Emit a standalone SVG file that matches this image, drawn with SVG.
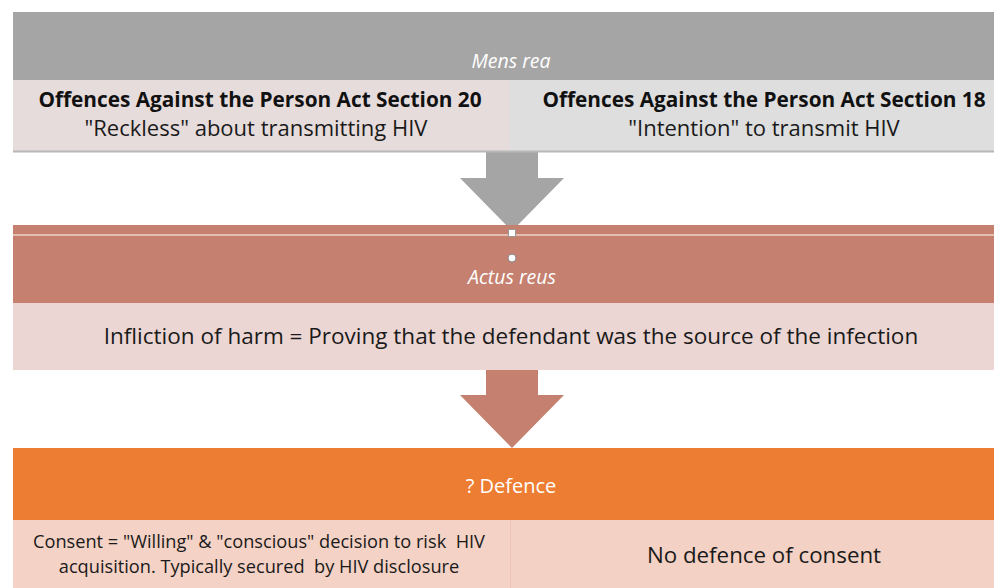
<svg xmlns="http://www.w3.org/2000/svg" width="994" height="588" viewBox="0 0 994 588">
<style>
.hdr{font-family:"Open Sans","Liberation Sans",sans-serif;font-style:italic;fill:#ffffff;font-size:19.5px;text-anchor:middle}
.hdrn{font-family:"Open Sans","Liberation Sans",sans-serif;fill:#ffffff;font-size:20px;text-anchor:middle}
.bold{font-family:"Open Sans","Liberation Sans",sans-serif;font-weight:bold;fill:#111;font-size:20.8px;text-anchor:middle}
.txt{font-family:"Open Sans","Liberation Sans",sans-serif;fill:#1a1a1a;text-anchor:middle}
.pre{white-space:pre}
</style>
<rect width="994" height="588" fill="#ffffff"/>
<g id="connectors">
  <polygon points="486,152 538,152 538,178 564,178 512,231 460,178 486,178" fill="#a5a5a5"/>
  <polygon points="486,370 538,370 538,395 564,395 512,448 460,395 486,395" fill="#c5806f"/>
</g>
<g id="mens-rea">
  <rect x="13" y="12" width="981" height="68" fill="#a5a5a5"/>
  <text class="hdr" x="511" y="68">Mens rea</text>
</g>
<g id="section20">
  <rect x="13" y="80" width="497" height="71" fill="#e7dcdc"/>
  <text class="bold" x="260" y="107">Offences Against the Person Act Section 20</text>
  <text class="txt" x="256" y="136" font-size="22">"Reckless" about transmitting HIV</text>
</g>
<g id="section18">
  <rect x="510" y="80" width="484" height="71" fill="#dedede"/>
  <text class="bold" x="764" y="107">Offences Against the Person Act Section 18</text>
  <text class="txt" x="764" y="136" font-size="22">"Intention" to transmit HIV</text>
</g>
<line x1="13" y1="151.5" x2="994" y2="151.5" stroke="#b8b8b8" stroke-width="2"/>
<g id="actus-reus">
  <rect x="13" y="225" width="981" height="78" fill="#c5806f"/>
  <line x1="13" y1="235" x2="994" y2="235" stroke="#ecd0c8" stroke-width="1.5"/>
  <rect x="508.5" y="229.5" width="7" height="7" fill="#ffffff" stroke="#999" stroke-width="1"/>
  <circle cx="512" cy="258" r="4" fill="#ffffff" stroke="#888" stroke-width="1"/>
  <text class="hdr" x="512" y="284" font-size="20.5">Actus reus</text>
</g>
<g id="infliction">
  <rect x="13" y="303" width="981" height="67" fill="#ecd6d3"/>
  <text class="txt" x="511" y="344" font-size="22.5">Infliction of harm = Proving that the defendant was the source of the infection</text>
</g>
<g id="defence">
  <rect x="13" y="448" width="981" height="72" fill="#ed7d32"/>
  <text class="hdrn" x="511" y="493">? Defence</text>
</g>
<g id="consent">
  <rect x="13" y="520" width="497" height="68" fill="#f4d2c5"/>
  <text class="txt pre" x="259" y="548" font-size="18.2">Consent = "Willing" &amp; "conscious" decision to risk  HIV</text>
  <text class="txt pre" x="259" y="573" font-size="18.2">acquisition. Typically secured  by HIV disclosure</text>
</g>
<g id="no-defence">
  <rect x="510" y="520" width="484" height="68" fill="#f3d1c4"/>
  <line x1="510.5" y1="520" x2="510.5" y2="588" stroke="#ecc3b4" stroke-width="1"/>
  <text class="txt" x="764" y="563" font-size="22.3">No defence of consent</text>
</g>
</svg>
